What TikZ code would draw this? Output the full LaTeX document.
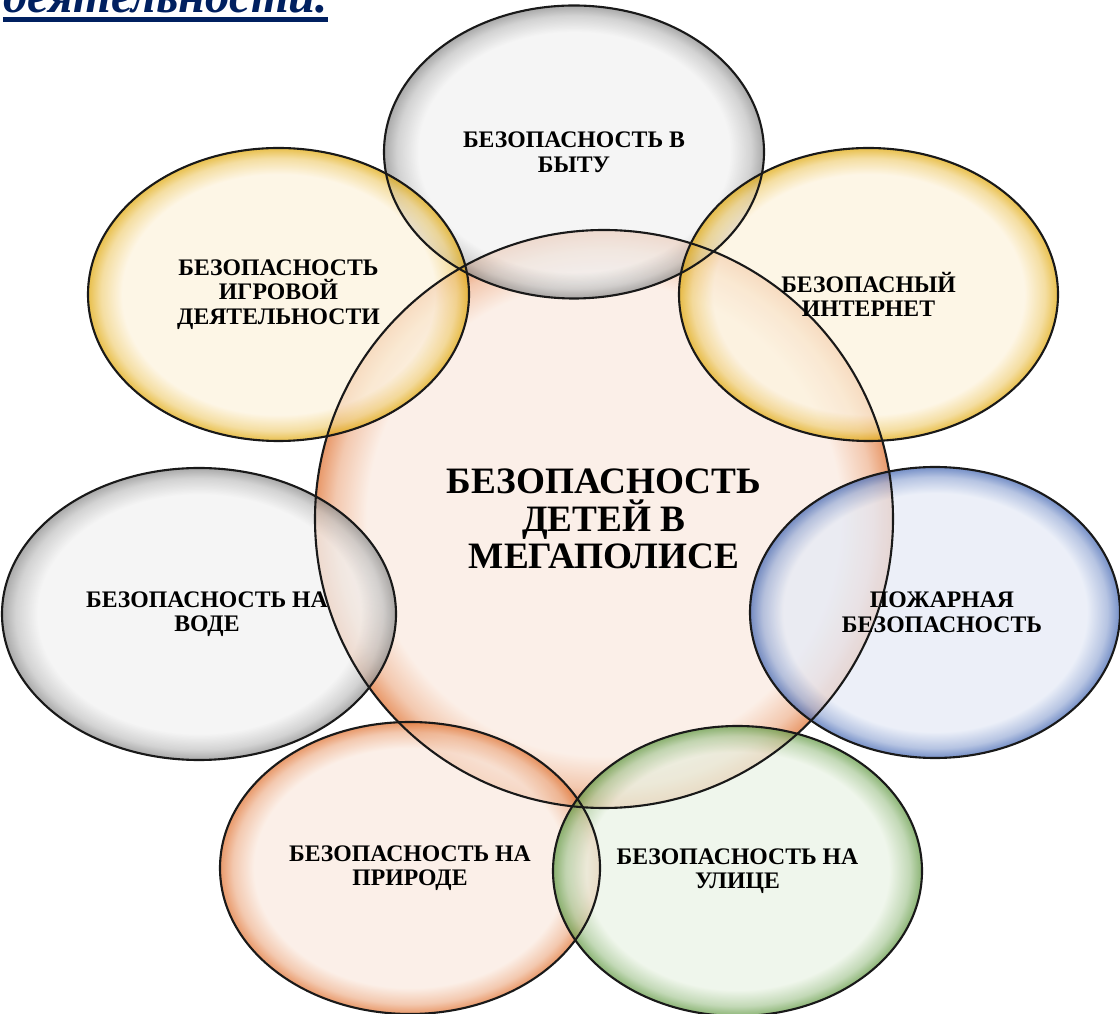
\documentclass[tikz,border=0pt]{standalone}
\usepackage{fontspec}
\setmainfont{Liberation Serif}
\usetikzlibrary{shapes.geometric, calc}

\definecolor{titleblue}{RGB}{0,32,96}
\definecolor{grayin}{RGB}{241,241,241}
\definecolor{grayout}{RGB}{140,140,140}
\definecolor{goldin}{RGB}{253,243,222}
\definecolor{goldout}{RGB}{225,170,15}
\definecolor{orangein}{RGB}{250,234,224}
\definecolor{orangeout}{RGB}{225,118,55}
\definecolor{bluein}{RGB}{229,234,246}
\definecolor{blueout}{RGB}{70,105,180}
\definecolor{greenin}{RGB}{234,243,229}
\definecolor{greenout}{RGB}{100,155,70}

\newcommand{\bubbleshading}[3]{%
  \pgfdeclareradialshading{#1}{\pgfpointorigin}{%
    color(0bp)=(#2); color(20.5bp)=(#2); color(23.3bp)=(#2!55!#3);
    color(25bp)=(#3); color(50bp)=(#3)}}
\bubbleshading{bubblegray}{grayin}{grayout}
\bubbleshading{bubblegold}{goldin}{goldout}
\bubbleshading{bubbleorange}{orangein}{orangeout}
\bubbleshading{bubbleblue}{bluein}{blueout}
\bubbleshading{bubblegreen}{greenin}{greenout}

\tikzset{
  bubble/.style={ellipse, fill opacity=0.75, shade, shading=#1,
    inner sep=0pt, outer sep=0pt},
  rim/.style={draw=black!90, line width=1.2pt},
  lbl/.style={font=\bfseries\fontsize{13.5}{14}\selectfont, align=center, inner sep=0pt},
  mainlbl/.style={font=\bfseries\fontsize{21.2}{21.5}\selectfont, align=center, inner sep=0pt},
}

\begin{document}
\begin{tikzpicture}
        \useasboundingbox (0,0) rectangle (22.4,20.26);

        % title
        \node[anchor=base west, inner sep=0pt, text=titleblue,
              font=\bfseries\itshape\fontsize{27.6}{28}\selectfont] (title) at (0.06,20.0) {деятельности.};
        \draw[titleblue, line width=2.5pt] ([yshift=-0.13cm]title.base west) -- ([yshift=-0.13cm]title.base east);

        % bubbles
        \node[bubble=bubbleorange, minimum width=11.56cm, minimum height=11.56cm] (megapolis) at (12.08,9.88) {};
        \node[bubble=bubblegray, minimum width=7.6cm, minimum height=5.86cm] (byt) at (11.48,17.22) {};
        \node[bubble=bubblegold, minimum width=7.62cm, minimum height=5.86cm] (igra) at (5.57,14.37) {};
        \node[bubble=bubblegold, minimum width=7.58cm, minimum height=5.86cm] (internet) at (17.37,14.37) {};
        \node[bubble=bubblegray, minimum width=7.88cm, minimum height=5.84cm] (voda) at (3.98,7.98) {};
        \node[bubble=bubbleblue, minimum width=7.4cm, minimum height=5.82cm] (pozhar) at (18.70,8.01) {};
        \node[bubble=bubbleorange, minimum width=7.6cm, minimum height=5.84cm] (priroda) at (8.2,2.9) {};
        \node[bubble=bubblegreen, minimum width=7.38cm, minimum height=5.8cm] (ulica) at (14.75,2.84) {};

        % rims on top
        \foreach \b in {megapolis, byt, igra, internet, voda, pozhar, priroda, ulica}
          \draw[rim] let \p1 = ($(\b.east)-(\b.center)$), \p2 = ($(\b.north)-(\b.center)$)
            in (\b.center) ellipse [x radius=\x1, y radius=\y2];

        % labels
        \node[mainlbl] (lmegapolis) at (megapolis) {БЕЗОПАСНОСТЬ\\ДЕТЕЙ В\\МЕГАПОЛИСЕ};
        \node[lbl] (lbyt) at (byt) {БЕЗОПАСНОСТЬ В\\БЫТУ};
        \node[lbl] (ligra) at (igra) {БЕЗОПАСНОСТЬ\\ИГРОВОЙ\\ДЕЯТЕЛЬНОСТИ};
        \node[lbl] (linternet) at (internet) {БЕЗОПАСНЫЙ\\ИНТЕРНЕТ};
        \node[lbl] (lvoda) at ([xshift=0.16cm]voda.center) {БЕЗОПАСНОСТЬ НА\\ВОДЕ};
        \node[lbl] (lpozhar) at ([xshift=0.14cm]pozhar.center) {ПОЖАРНАЯ\\БЕЗОПАСНОСТЬ};
        \node[lbl] (lpriroda) at (priroda) {БЕЗОПАСНОСТЬ НА\\ПРИРОДЕ};
        \node[lbl] (lulica) at (ulica) {БЕЗОПАСНОСТЬ НА\\УЛИЦЕ};

      \end{tikzpicture}
\end{document}
